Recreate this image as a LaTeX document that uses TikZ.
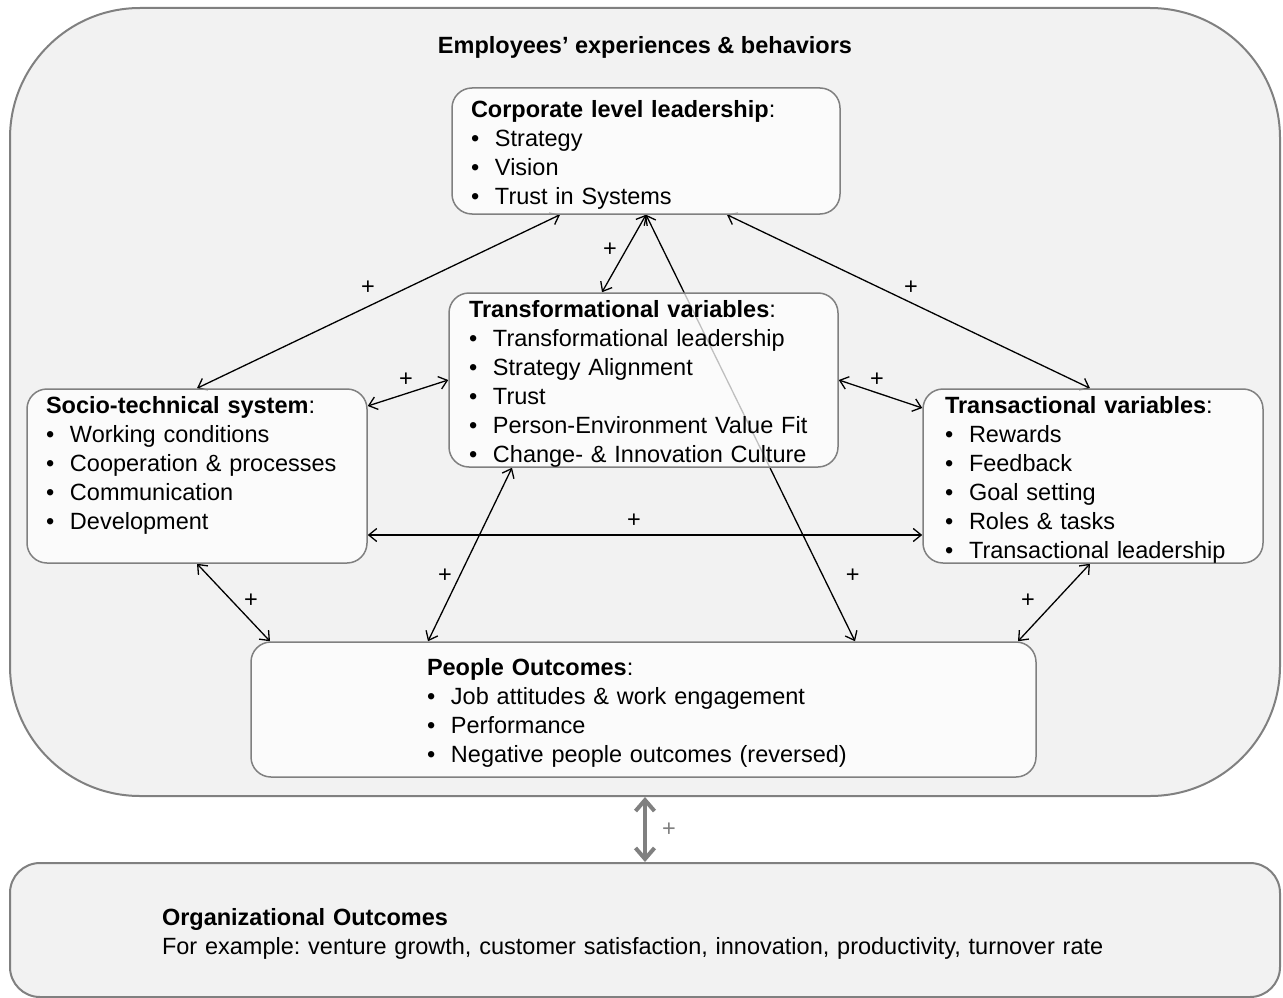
\documentclass[tikz,border=0pt]{standalone}
\usepackage{fontspec}
\setmainfont{Liberation Sans}
\usetikzlibrary{arrows.meta}
\definecolor{frame}{rgb}{0.5,0.5,0.5}
\definecolor{panel}{rgb}{0.949,0.949,0.949}
\newcommand{\itm}[1]{\makebox[24pt][l]{\textbullet}#1}
\newcommand{\ttl}[1]{\rule{0pt}{24pt}\textbf{#1}}
\frenchspacing

\pgfdeclarelayer{bg}
\pgfdeclarelayer{edges}
\pgfsetlayers{bg,edges,main}

\begin{document}
\begin{tikzpicture}[
  x=1pt, y=-1pt,
  font=\fontsize{23.5}{29}\selectfont,
  box/.style={
    draw=frame,
    line width=1.5pt,
    fill=white,
    fill opacity=0.75,
    text opacity=1,
    rounded corners=20pt,
    align=left,
    inner ysep=0pt
  },
  panelbox/.style={
    draw=frame,
    line width=2pt,
    fill=panel,
    align=left
  },
  link/.style={
    {Straight Barb[length=8pt,width=13pt]}-{Straight Barb[length=8pt,width=13pt]},
    line width=1.3pt
  },
  biglink/.style={
    {Straight Barb[length=11pt,width=19pt]}-{Straight Barb[length=11pt,width=19pt]},
    line width=4pt,
    draw=frame
  },
  plus/.style={inner sep=0pt},
]
\useasboundingbox (0,0) rectangle (1283,998);

\begin{pgfonlayer}{bg}
  \node[panelbox, rounded corners=130pt, minimum width=1270pt, minimum height=788pt] (emp) at (645,402) {};
  \node[panelbox, rounded corners=30pt, text width=966pt, inner xsep=152pt, minimum height=134pt] (org) at (645,930)
    {\ttl{Organizational Outcomes}\\ For example: venture growth, customer satisfaction, innovation, productivity, turnover rate};
\end{pgfonlayer}

\node[font=\fontsize{23.5}{29}\selectfont\bfseries] (emptitle) at (645,47) {Employees’ experiences \& behaviors};

% boxes
\node[box, text width=350pt, inner xsep=19pt, minimum height=126pt] (corp) at (646,151)
  {\ttl{Corporate level leadership}:\\ \itm{Strategy}\\ \itm{Vision}\\ \itm{Trust in Systems}};
\node[box, text width=349pt, inner xsep=20pt, minimum height=174pt] (transf) at (643.5,380)
  {\ttl{Transformational variables}:\\ \itm{Transformational leadership}\\ \itm{Strategy Alignment}\\ \itm{Trust}\\ \itm{Person-Environment Value Fit}\\ \itm{Change- \& Innovation Culture}};
\node[box, text width=302pt, inner xsep=19pt, minimum height=174pt] (socio) at (197,476)
  {\ttl{Socio-technical system}:\\ \itm{Working conditions}\\ \itm{Cooperation \& processes}\\ \itm{Communication}\\ \itm{Development}\\ \vphantom{Tg}};
\node[box, text width=296pt, inner xsep=22pt, minimum height=174pt] (transa) at (1093,476)
  {\ttl{Transactional variables}:\\ \itm{Rewards}\\ \itm{Feedback}\\ \itm{Goal setting}\\ \itm{Roles \& tasks}\\ \itm{Transactional leadership}};
\node[box, text width=433pt, inner xsep=176pt, minimum height=135pt] (people) at (643.5,709.5)
  {\ttl{People Outcomes}:\\ \itm{Job attitudes \& work engagement}\\ \itm{Performance}\\ \itm{Negative people outcomes (reversed)}};

% connectors
\begin{pgfonlayer}{edges}
  \draw[link] ([xshift=-86pt]corp.south) -- (socio.north) node[plus, pos=.5, xshift=-10.5pt, yshift=13.5pt] {+};
  \draw[link] (corp.south) -- ([xshift=-41.5pt]transf.north) node[plus, pos=.5, xshift=-14pt, yshift=4pt] {+};
  \draw[link] (corp.south) -- ([xshift=211.5pt]people.north) node[plus, pos=.846, xshift=30pt] {+};
  \draw[link] ([xshift=81pt]corp.south) -- ([xshift=-3pt]transa.north) node[plus, pos=.5, xshift=2.5pt, yshift=13.5pt] {+};
  \draw[link] (transf.west) -- ([yshift=70pt]socio.east) node[plus, pos=.5, xshift=-2pt, yshift=13pt] {+};
  \draw[link] (transf.east) -- ([yshift=68pt]transa.west) node[plus, pos=.5, xshift=-3.5pt, yshift=14pt] {+};
  \draw[link] ([yshift=-59pt]socio.east) -- ([yshift=-59pt]transa.west) node[plus, pos=.5, xshift=-11pt, yshift=14pt] {+};
  \draw[link] (socio.south) -- ([xshift=-373.5pt]people.north) node[plus, pos=.5, xshift=17.5pt, yshift=1.5pt] {+};
  \draw[link] ([xshift=-131.5pt]transf.south) -- ([xshift=-215.5pt]people.north) node[plus, pos=.5, xshift=-25pt, yshift=-21.5pt] {+};
  \draw[link] ([xshift=-3pt]transa.south) -- ([xshift=374.5pt]people.north) node[plus, pos=.5, xshift=-26pt, yshift=1.5pt] {+};
  \draw[biglink] (emp.south) -- (org.north) node[plus, pos=.5, xshift=24pt, text=frame] {+};
\end{pgfonlayer}

\end{tikzpicture}
\end{document}
